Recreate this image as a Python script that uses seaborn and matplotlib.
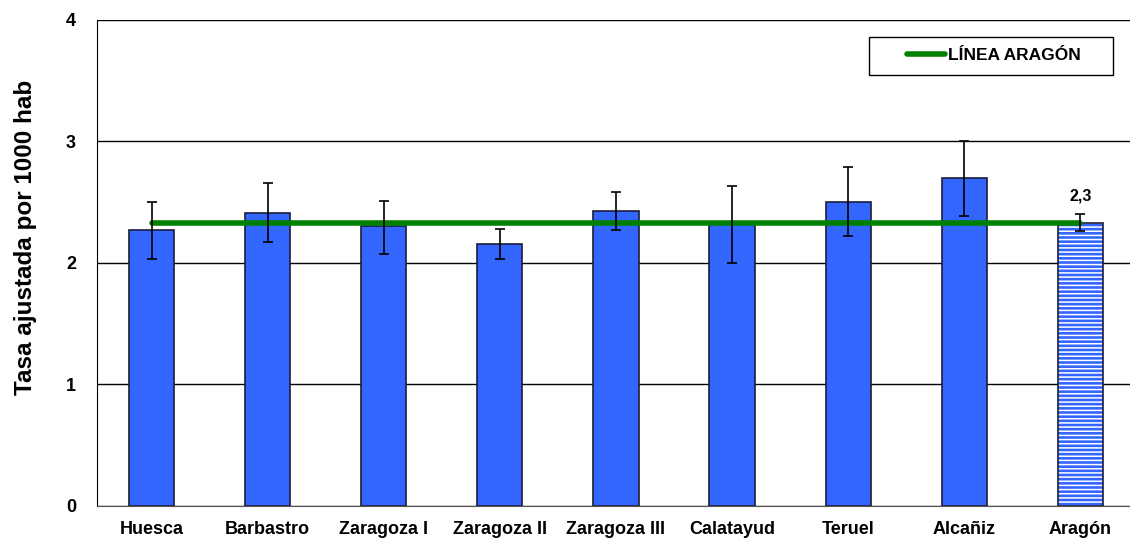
import numpy as np
import pandas as pd
import seaborn as sns
from matplotlib import pyplot as plt
from matplotlib.patches import Rectangle

# data
sectores = ["Huesca", "Barbastro", "Zaragoza I", "Zaragoza II", "Zaragoza III",
            "Calatayud", "Teruel", "Alcañiz", "Aragón"]
tasa = [2.27, 2.41, 2.30, 2.16, 2.43, 2.33, 2.50, 2.70, 2.33]
ic_inf = [2.03, 2.17, 2.07, 2.03, 2.27, 2.00, 2.22, 2.39, 2.26]
ic_sup = [2.50, 2.66, 2.51, 2.28, 2.58, 2.63, 2.79, 3.00, 2.40]
linea_aragon = 2.33
etiqueta_aragon = "2,3"

sns.set_style("white")
plt.rcParams['font.family'] = ['Liberation Sans', 'DejaVu Sans']
plt.rcParams['font.weight'] = 'bold'
plt.rcParams['hatch.linewidth'] = 1.1
for k in ['text.color', 'axes.labelcolor', 'xtick.color', 'ytick.color']:
    plt.rcParams[k] = 'black'

df = pd.DataFrame({"sector": sectores, "tasa": tasa})

fig = plt.figure(figsize=(11.3, 5.38), dpi=100)
ax = fig.add_axes([0.0858, 0.0595, 0.9186, 0.9035])

blue = "#3366FF"
edge = "#1c1c3a"
sns.barplot(data=df, x="sector", y="tasa", color=blue, width=0.39,
            saturation=1, edgecolor=edge, linewidth=1.2, ax=ax, zorder=2)

# Aragón bar: horizontal white stripes over blue
last = ax.patches[-1]
last.set_facecolor(blue)
last.set_edgecolor("white")
last.set_hatch("----")
last.set_linewidth(0)
x0, w, h = last.get_x(), last.get_width(), last.get_height()
ax.bar(x0 + w / 2, h, width=w, fill=False, edgecolor=edge, linewidth=1.2, zorder=3)

# error bars
xs = np.arange(len(sectores))
err = [np.array(tasa) - np.array(ic_inf), np.array(ic_sup) - np.array(tasa)]
ax.errorbar(xs, tasa, yerr=err, fmt="none", ecolor="black", elinewidth=1.2,
            capsize=3.5, capthick=1.2, zorder=5)

# Aragón reference line
ax.plot([xs[0], xs[-1]], [linea_aragon, linea_aragon], color="#008000", lw=4,
        solid_capstyle="round", zorder=4, label="LÍNEA ARAGÓN")

ax.text(xs[-1], 2.55, etiqueta_aragon, ha="center", va="center",
        fontsize=11.5, fontweight="bold")

ax.set_ylim(0, 4)
ax.set_xlim(-0.47, 8.47)
ax.set_yticks([0, 1, 2, 3, 4])
ax.yaxis.grid(True, color="black", lw=1)
ax.set_axisbelow(True)
ax.tick_params(axis="y", labelsize=13, length=0, pad=15)
ax.tick_params(axis="x", labelsize=13, length=0, pad=11)
for lab in ax.get_xticklabels() + ax.get_yticklabels():
    lab.set_fontweight("bold")
ax.set_xlabel("")
ax.set_ylabel("Tasa ajustada por 1000 hab", fontsize=17.5, fontweight="bold")
ax.yaxis.set_label_coords(-0.0575, 0.553)

for s in ["top", "right"]:
    ax.spines[s].set_visible(False)
ax.spines["left"].set_color("black")
ax.spines["bottom"].set_color("#555555")

# legend box
ax.add_patch(Rectangle((0.7437, 0.8868), 0.2351, 0.0782, transform=ax.transAxes,
                       facecolor="white", edgecolor="black", lw=1, zorder=6))
leg = ax.legend(loc="center left", bbox_to_anchor=(0.7803, 0.926), frameon=False,
                fontsize=12.5, handlelength=2.2, borderpad=0, handletextpad=0.15,
                borderaxespad=0)
leg.set_zorder(7)
for t in leg.get_texts():
    t.set_fontweight("bold")

fig.savefig("out.png", dpi=100)
